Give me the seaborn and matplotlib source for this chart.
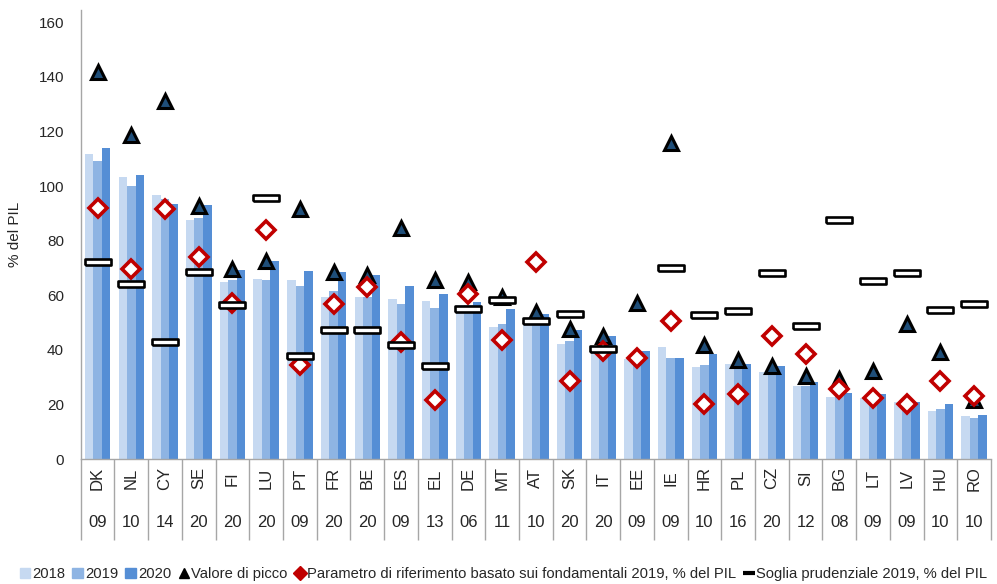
import numpy as np
import pandas as pd
import seaborn as sns
import matplotlib.pyplot as plt
from matplotlib.lines import Line2D
from matplotlib.patches import Patch
from matplotlib.path import Path
import matplotlib.transforms as mtransforms

# dati
countries = ["DK", "NL", "CY", "SE", "FI", "LU", "PT", "FR", "BE", "ES", "EL", "DE", "MT", "AT",
             "SK", "IT", "EE", "IE", "HR", "PL", "CZ", "SI", "BG", "LT", "LV", "HU", "RO"]
peak_years = ["09", "10", "14", "20", "20", "20", "09", "20", "20", "09", "13", "06", "11", "10",
              "20", "20", "09", "09", "10", "16", "20", "12", "08", "09", "09", "10", "10"]
years = ["2018", "2019", "2020"]
v2018 = [111.7, 103.3, 96.6, 87.5, 64.7, 66.0, 65.7, 59.3, 59.3, 58.6, 58.0, 56.4, 48.4, 51.0,
         42.0, 40.5, 36.5, 41.1, 33.6, 34.8, 31.7, 26.9, 22.7, 22.3, 20.9, 17.5, 15.6]
v2019 = [109.0, 100.1, 95.2, 88.4, 65.7, 65.7, 63.4, 61.7, 59.5, 56.8, 55.4, 56.4, 49.4, 51.0,
         43.3, 41.0, 37.5, 37.0, 34.3, 34.8, 33.0, 26.9, 24.3, 23.0, 20.9, 18.3, 15.0]
v2020 = [114.0, 104.2, 93.5, 92.9, 69.2, 72.4, 68.7, 68.4, 67.4, 63.5, 60.3, 57.5, 54.9, 53.1,
         47.4, 45.2, 39.7, 37.0, 38.5, 34.8, 33.9, 28.2, 24.3, 24.0, 20.9, 20.1, 16.0]
peak = [141.8, 118.6, 131.0, 92.7, 69.6, 72.6, 91.6, 68.5, 67.5, 84.6, 65.7, 65.0, 59.4, 54.0,
        47.6, 45.2, 57.1, 115.7, 41.9, 36.4, 34.2, 30.5, 29.3, 32.4, 49.5, 39.1, 21.7]
benchmark = [92.0, 69.7, 91.7, 73.9, 57.1, 84.0, 34.6, 56.8, 63.0, 42.7, 21.5, 60.4, 43.7, 72.0,
             28.6, 39.7, 37.0, 50.4, 20.1, 23.8, 44.9, 38.6, 25.6, 22.3, 20.1, 28.6, 23.2]
threshold = [72.0, 64.0, 43.0, 68.5, 56.3, 95.7, 37.6, 47.4, 47.4, 41.6, 34.0, 55.0, 58.1, 50.7,
             53.2, 40.3, np.nan, 69.8, 52.7, 54.1, 68.0, 48.8, 87.7, 65.3, 68.0, 54.6, 56.8]

bar_colors = ["#c6d9f1", "#8eb4e3", "#558ed5"]

df = pd.DataFrame({"paese": countries * 3,
                   "anno": [y for y in years for _ in countries],
                   "valore": v2018 + v2019 + v2020})

sns.set_theme(style="white")
plt.rcParams['font.family'] = ['Liberation Sans', 'DejaVu Sans']

fig = plt.figure(figsize=(9.97, 5.84), dpi=100)
ax = fig.add_axes([0.081, 0.214, 0.913, 0.769])

sns.barplot(data=df, x="paese", y="valore", hue="anno", order=countries, hue_order=years,
            palette=bar_colors, width=0.76, gap=0, saturation=1, legend=False,
            linewidth=0, edgecolor="none", ax=ax)

idx = np.arange(len(countries))
ax.plot(idx, peak, linestyle="none", marker="^", markersize=9.5, markerfacecolor="#1f4e79",
        markeredgecolor="black", markeredgewidth=2.2, zorder=3)
ax.plot(idx, benchmark, linestyle="none", marker="D", markersize=9.5, markerfacecolor="white",
        markeredgecolor="#c00000", markeredgewidth=2.6, zorder=4)
rect = Path([(-1, -0.22), (1, -0.22), (1, 0.22), (-1, 0.22), (-1, -0.22)])
ax.plot(idx, threshold, linestyle="none", marker=rect, markersize=19, markerfacecolor="white",
        markeredgecolor="black", markeredgewidth=1.9, zorder=5)

ax.set_xlim(-0.5, len(countries) - 0.5)
ax.set_ylim(0, 164.5)
ax.set_yticks(np.arange(0, 161, 20))
ax.tick_params(axis="y", labelsize=11, length=0, pad=12)
ax.set_xticks([])
ax.set_xlabel("")
ax.set_ylabel("% del PIL", fontsize=11, labelpad=12)
for s in ["top", "right"]:
    ax.spines[s].set_visible(False)
for s in ["left", "bottom"]:
    ax.spines[s].set_color("#a6a6a6")
    ax.spines[s].set_linewidth(1)

# etichette a due livelli sull'asse x
trans = mtransforms.blended_transform_factory(ax.transData, ax.transAxes)
ax.vlines(np.arange(len(countries) + 1) - 0.5, -0.18, 0, transform=trans, colors="#a6a6a6",
          linewidth=1, clip_on=False)
for i, (c, y) in enumerate(zip(countries, peak_years)):
    ax.text(i, -0.043, c, transform=trans, rotation=90, ha="center", va="center", fontsize=12)
    ax.text(i, -0.142, y, transform=trans, ha="center", va="center", fontsize=12)

handles = [Patch(color=bar_colors[0]), Patch(color=bar_colors[1]), Patch(color=bar_colors[2]),
           Line2D([], [], linestyle="none", marker="^", color="black", markersize=7),
           Line2D([], [], linestyle="none", marker="D", color="#c00000", markersize=7),
           Line2D([], [], linestyle="none", marker="_", color="black", markersize=9,
                  markeredgewidth=3)]
labels = ["2018", "2019", "2020", "Valore di picco",
          "Parametro di riferimento basato sui fondamentali 2019, % del PIL",
          "Soglia prudenziale 2019, % del PIL"]
fig.legend(handles, labels, loc="center", bbox_to_anchor=(0.505, 0.017), ncol=6, frameon=False,
           fontsize=10.6, handlelength=0.7, handleheight=0.7, handletextpad=0.15,
           columnspacing=0.5, borderaxespad=0)

plt.savefig("out.png", dpi=100)
